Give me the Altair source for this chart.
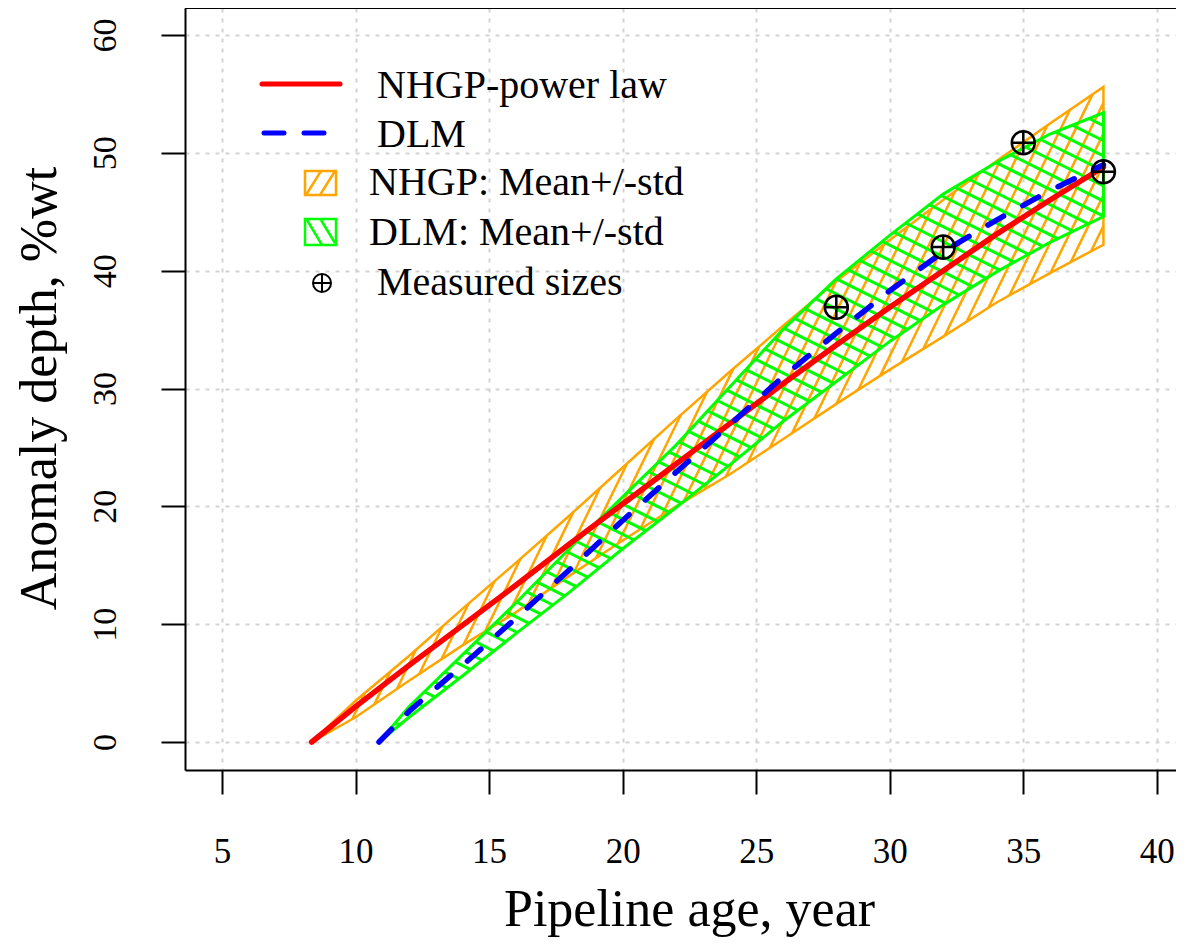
import math
import altair as alt
import pandas as pd

# ---------------- data ----------------
NHGP_YEARS = [8.36, 10, 12, 14, 16, 18, 20, 22, 24, 26, 28, 30, 32, 34, 36, 38]
NHGP_MEAN = [0, 3.0, 6.5, 9.9, 13.3, 16.8, 20.2, 23.6, 27.0, 30.4, 33.7, 36.9, 40.0, 43.1, 46.0, 48.8]
NHGP_UPPER = [0, 3.5, 7.3, 11.3, 15.2, 19.2, 23.3, 27.4, 31.4, 35.3, 39.1, 42.6, 46.0, 49.3, 52.5, 55.6]
NHGP_LOWER = [0, 2.1, 5.2, 8.2, 11.0, 14.1, 17.1, 20.0, 22.7, 25.7, 28.7, 31.6, 34.4, 37.3, 39.8, 42.2]

DLM_YEARS = [10.88, 12, 14, 16, 18, 20, 22, 24, 26, 28, 30, 32, 34, 36, 38]
DLM_MEAN = [0, 2.6, 6.5, 10.5, 14.6, 18.8, 22.9, 26.9, 31.0, 34.7, 38.3, 41.6, 44.3, 46.8, 49.0]
DLM_UPPER = [0, 3.0, 7.4, 11.8, 16.4, 20.8, 25.2, 30.1, 35.0, 39.3, 43.0, 46.5, 49.2, 51.6, 53.4]
DLM_LOWER = [0, 2.1, 5.6, 9.2, 12.7, 16.4, 19.9, 23.5, 27.2, 30.6, 34.0, 37.1, 39.9, 42.4, 44.6]

MEAS_YEARS = [28, 32, 35, 38]
MEAS_DEPTH = [36.9, 42.0, 50.85, 48.4]

X_TICKS = [5, 10, 15, 20, 25, 30, 35, 40]
Y_TICKS = [0, 10, 20, 30, 40, 50, 60]

LEGEND_LABELS = ["NHGP-power law", "DLM", "NHGP: Mean+/-std", "DLM: Mean+/-std", "Measured sizes"]

# ---------------- layout ----------------
W, H = 991, 762
PXX, PXY = 26.71, 11.783          # pixels per data unit
X0 = 3.615
Y1 = 62.294
X1 = X0 + W / PXX
Y0 = Y1 - H / PXY

FONT = "Liberation Serif"
ORANGE, GREEN = "#FFA500", "#00FF00"


def to_px(x, y):
    return ((x - X0) * PXX, (Y1 - y) * PXY)


def from_px(px, py):
    return (X0 + px / PXX, Y1 - py / PXY)


def hatch(xs, up, lo, direction, spacing, phase=0.0):
    poly = [to_px(x, y) for x, y in zip(xs, up)] + [to_px(x, y) for x, y in zip(xs[::-1], lo[::-1])]
    dx, dy = direction
    L = math.hypot(dx, dy)
    d = (dx / L, dy / L)
    n = (-d[1], d[0])
    proj = [n[0] * p[0] + n[1] * p[1] for p in poly]
    cmin, cmax = min(proj), max(proj)
    c = math.floor((cmin - phase) / spacing) * spacing + phase + spacing
    rows = []
    N = len(poly)
    while c < cmax:
        pts = []
        for i in range(N):
            j = (i + 1) % N
            fp, fq = proj[i] - c, proj[j] - c
            if (fp < 0) != (fq < 0):
                t = fp / (fp - fq)
                p, q = poly[i], poly[j]
                pts.append((p[0] + t * (q[0] - p[0]), p[1] + t * (q[1] - p[1])))
        pts.sort(key=lambda p: d[0] * p[0] + d[1] * p[1])
        for k in range(0, len(pts) - 1, 2):
            a = from_px(*pts[k])
            b = from_px(*pts[k + 1])
            rows.append({"x": a[0], "y": a[1], "x2": b[0], "y2": b[1]})
        c += spacing
    return pd.DataFrame(rows)


nhgp_df = pd.DataFrame({"x": NHGP_YEARS, "y": NHGP_MEAN, "up": NHGP_UPPER, "lo": NHGP_LOWER})
dlm_df = pd.DataFrame({"x": DLM_YEARS, "y": DLM_MEAN, "up": DLM_UPPER, "lo": DLM_LOWER})
meas_df = pd.DataFrame({"x": MEAS_YEARS, "y": MEAS_DEPTH})
nhgp_hatch = hatch(NHGP_YEARS, NHGP_UPPER, NHGP_LOWER, (1, -2.05), 13.5, 3.0)
dlm_hatch = hatch(DLM_YEARS, DLM_UPPER, DLM_LOWER, (1, 0.5), 13.5, 5.0)

XS = alt.Scale(domain=[X0, X1], nice=False, zero=False)
YS = alt.Scale(domain=[Y0, Y1], nice=False, zero=False)

XAX = alt.Axis(
    values=X_TICKS, grid=True, gridColor="#d3d3d3", gridDash=[4, 6], gridWidth=2,
    tickSize=24, tickWidth=2, tickColor="black", domainColor="black", domainWidth=2,
    labelFont=FONT, labelFontSize=35, labelColor="black", labelPadding=40,
    labelFlush=False, labelOverlap=False,
    title="Pipeline age, year", titleFont=FONT, titleFontSize=52, titleFontWeight="normal",
    titleColor="black", titleX=504, titleY=155, titleAlign="center", titleBaseline="alphabetic",
)
YAX = alt.Axis(
    values=Y_TICKS, grid=True, gridColor="#d3d3d3", gridDash=[4, 6], gridWidth=2,
    tickSize=24, tickWidth=2, tickColor="black", domainColor="black", domainWidth=2,
    labelFont=FONT, labelFontSize=34, labelColor="black", labelPadding=46,
    labelAngle=270, labelAlign="center", labelBaseline="alphabetic",
    labelFlush=False, labelOverlap=False,
    title="Anomaly depth, %wt", titleFont=FONT, titleFontSize=52, titleFontWeight="normal",
    titleColor="black", titleAngle=270, titleX=-130, titleY=380, titleAlign="center",
    titleBaseline="alphabetic",
)


def X(f="x"):
    return alt.X(f"{f}:Q", scale=XS, axis=XAX)


def Y(f="y"):
    return alt.Y(f"{f}:Q", scale=YS, axis=YAX)


layers = []

# NHGP band
layers.append(alt.Chart(nhgp_df).mark_area(fillOpacity=0, stroke=ORANGE, strokeWidth=2.5, fill=ORANGE)
              .encode(x=X(), y=Y("up"), y2="lo:Q"))
layers.append(alt.Chart(nhgp_hatch).mark_rule(color=ORANGE, strokeWidth=2.5)
              .encode(x=X(), y=Y(), x2="x2:Q", y2="y2:Q"))
# DLM band
layers.append(alt.Chart(dlm_df).mark_area(fillOpacity=0, stroke=GREEN, strokeWidth=3, fill=GREEN)
              .encode(x=X(), y=Y("up"), y2="lo:Q"))
layers.append(alt.Chart(dlm_hatch).mark_rule(color=GREEN, strokeWidth=3)
              .encode(x=X(), y=Y(), x2="x2:Q", y2="y2:Q"))
# mean lines
layers.append(alt.Chart(nhgp_df).mark_line(color="#FF0000", strokeWidth=5.5, strokeCap="round")
              .encode(x=X(), y=Y()))
layers.append(alt.Chart(dlm_df).mark_line(color="#0000FF", strokeWidth=5.5, strokeCap="round", strokeDash=[18, 22])
              .encode(x=X(), y=Y()))
# measured points
layers.append(alt.Chart(meas_df).mark_point(shape="circle", size=530, filled=False, color="black", strokeWidth=2.5, opacity=1)
              .encode(x=X(), y=Y()))
layers.append(alt.Chart(meas_df).mark_point(shape="M-1,0L1,0M0,-1L0,1", size=530, filled=False, color="black", strokeWidth=2.5, opacity=1)
              .encode(x=X(), y=Y()))

# ---------------- legend & frame (pixel positions) ----------------
one = pd.DataFrame({"k": [0]})
layers.append(alt.Chart(one).mark_rule(color="black", strokeWidth=2)
              .encode(x=alt.value(0), x2=alt.value(W), y=alt.value(0)))
layers.append(alt.Chart(one).mark_rule(color="#FF0000", strokeWidth=5, strokeCap="round")
              .encode(x=alt.value(77), x2=alt.value(155), y=alt.value(76)))
layers.append(alt.Chart(one).mark_rule(color="#0000FF", strokeWidth=5, strokeCap="round", strokeDash=[20, 20])
              .encode(x=alt.value(79), x2=alt.value(155), y=alt.value(125)))
# orange legend box
layers.append(alt.Chart(one).mark_rect(fill=None, stroke=ORANGE, strokeWidth=2.5)
              .encode(x=alt.value(120), x2=alt.value(151), y=alt.value(163), y2=alt.value(187)))
for (a, b, c, d) in [(121, 187, 136, 163), (135, 187, 150, 163)]:
    layers.append(alt.Chart(one).mark_rule(color=ORANGE, strokeWidth=2.5)
                  .encode(x=alt.value(a), y=alt.value(b), x2=alt.value(c), y2=alt.value(d)))
# green legend box
layers.append(alt.Chart(one).mark_rect(fill=None, stroke=GREEN, strokeWidth=2.5)
              .encode(x=alt.value(120), x2=alt.value(151), y=alt.value(211), y2=alt.value(237)))
for (a, b, c, d) in [(122, 212, 137, 237), (136, 212, 150, 235)]:
    layers.append(alt.Chart(one).mark_rule(color=GREEN, strokeWidth=2.5)
                  .encode(x=alt.value(a), y=alt.value(b), x2=alt.value(c), y2=alt.value(d)))
# legend symbol
layers.append(alt.Chart(one).mark_point(shape="circle", size=324, filled=False, color="black", strokeWidth=2, opacity=1)
              .encode(x=alt.value(137), y=alt.value(275)))
layers.append(alt.Chart(one).mark_point(shape="M-1,0L1,0M0,-1L0,1", size=324, filled=False, color="black", strokeWidth=2, opacity=1)
              .encode(x=alt.value(137), y=alt.value(275)))
# legend labels
for label, lx, ly in zip(LEGEND_LABELS, [192, 192, 184, 184, 192], [90, 139, 187, 237, 287]):
    layers.append(alt.Chart(one).mark_text(text=label, font=FONT, fontSize=40, color="black",
                                           align="left", baseline="alphabetic")
                  .encode(x=alt.value(lx), y=alt.value(ly)))

chart = alt.layer(*layers).properties(
    width=W, height=H,
    autosize=alt.AutoSizeParams(type="none"),
    padding={"left": 177, "top": 0, "right": 0, "bottom": 168},
    background="white",
).configure_view(stroke=None)

chart.save("out.html", embed_options={"renderer": "svg", "actions": False})
